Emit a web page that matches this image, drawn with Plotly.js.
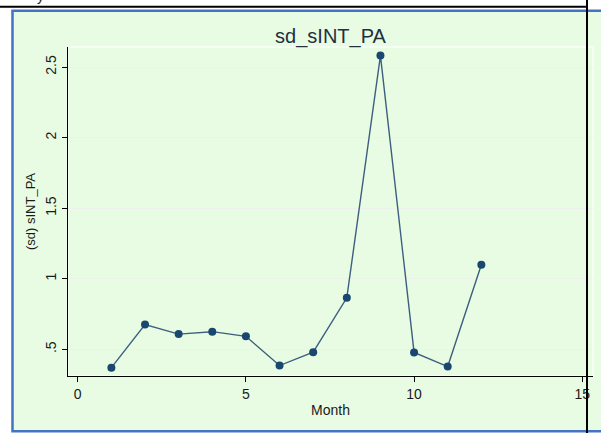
<!DOCTYPE html>
<html>
<head>
<meta charset="utf-8">
<script src="https://cdn.plot.ly/plotly-3.0.1.min.js"></script>
<style>html,body{margin:0;padding:0;background:#fff;}#chart{width:601px;height:433px;}</style>
</head>
<body>
<div id="chart"></div>
<script>
const months = [1, 2, 3, 4, 5, 6, 7, 8, 9, 10, 11, 12];
const sdValues = [0.370, 0.675, 0.608, 0.625, 0.592, 0.385, 0.480, 0.865, 2.581, 0.478, 0.378, 1.099];
const yTickVals = [0.5, 1, 1.5, 2, 2.5];
const yTickText = ['.5', '1', '1.5', '2', '2.5'];
const xTickVals = [0, 5, 10, 15];
const xTickText = ['0', '5', '10', '15'];

// plot area in pixels
const L = 68, R = 593, T = 46.7, B = 375.7, W = 601, H = 433;
const pw = R - L, ph = B - T;
const px = v => (v - L) / pw;
const py = v => (B - v) / ph;

const navy = '#1a476f';
const trace = {
  x: months, y: sdValues, type: 'scatter', mode: 'lines+markers',
  line: {color: '#3d5f7f', width: 1.4},
  marker: {color: navy, size: 8},
  hoverinfo: 'x+y'
};

const layout = {
  width: W, height: H,
  margin: {l: L, r: W - R, t: T, b: H - B, pad: 0},
  paper_bgcolor: '#ffffff',
  plot_bgcolor: 'rgba(0,0,0,0)',
  showlegend: false,
  font: {family: 'Liberation Sans, Arial, sans-serif', color: '#1a1a1a', size: 14},
  title: {text: 'sd_sINT_PA', font: {size: 20, color: '#24303f'}, x: 0.5 * (L + R) / W, xanchor: 'center', y: 1 - 35.5 / H, yanchor: 'middle'},
  xaxis: {
    range: [-0.29, 15.32], tickvals: xTickVals, ticktext: xTickText,
    ticks: 'outside', ticklen: 5, tickcolor: '#000', tickwidth: 1,
    showline: true, linecolor: '#000', linewidth: 1.2, showgrid: false, zeroline: false,
    tickfont: {size: 14, color: '#1a1a1a'},
    title: {text: 'Month', font: {size: 14, color: '#1a1a1a'}, standoff: 4}
  },
  yaxis: {
    range: [0.311, 2.642], tickvals: yTickVals, ticktext: yTickText, tickangle: -90,
    ticks: 'outside', ticklen: 5, tickcolor: '#000', tickwidth: 1,
    showline: true, linecolor: '#000', linewidth: 1.2,
    showgrid: true, gridcolor: '#eef1ee', gridwidth: 1, zeroline: false,
    tickfont: {size: 14, color: '#1a1a1a'},
    title: {text: '(sd) sINT_PA', font: {size: 13, color: '#1a1a1a'}, standoff: 4}
  },
  shapes: [
    // green frame with blue border
    {type: 'rect', xref: 'paper', yref: 'paper', layer: 'below',
     x0: px(12.5), x1: px(603), y0: py(431), y1: py(10.5),
     fillcolor: '#e8fce4', line: {color: '#4472c4', width: 2.5}},
    // plot region outline
    {type: 'rect', xref: 'paper', yref: 'paper', layer: 'below',
     x0: 0, x1: 1, y0: 0, y1: 1, fillcolor: 'rgba(0,0,0,0)', line: {color: '#ffffff', width: 1.2}},
    // black page lines
    {type: 'line', xref: 'paper', yref: 'paper', layer: 'above',
     x0: px(-2), x1: px(587), y0: py(6.5), y1: py(6.5), line: {color: '#000', width: 2}},
    {type: 'line', xref: 'paper', yref: 'paper', layer: 'above',
     x0: px(587), x1: px(587), y0: py(-2), y1: py(436), line: {color: '#000', width: 2}}
  ],
  annotations: [
    {text: 'y', xref: 'paper', yref: 'paper', x: px(40), y: py(-4), xanchor: 'center', yanchor: 'middle',
     showarrow: false, font: {size: 14, color: '#222'}}
  ]
};

Plotly.newPlot('chart', [trace], layout, {displayModeBar: false, staticPlot: true});
</script>
</body>
</html>
